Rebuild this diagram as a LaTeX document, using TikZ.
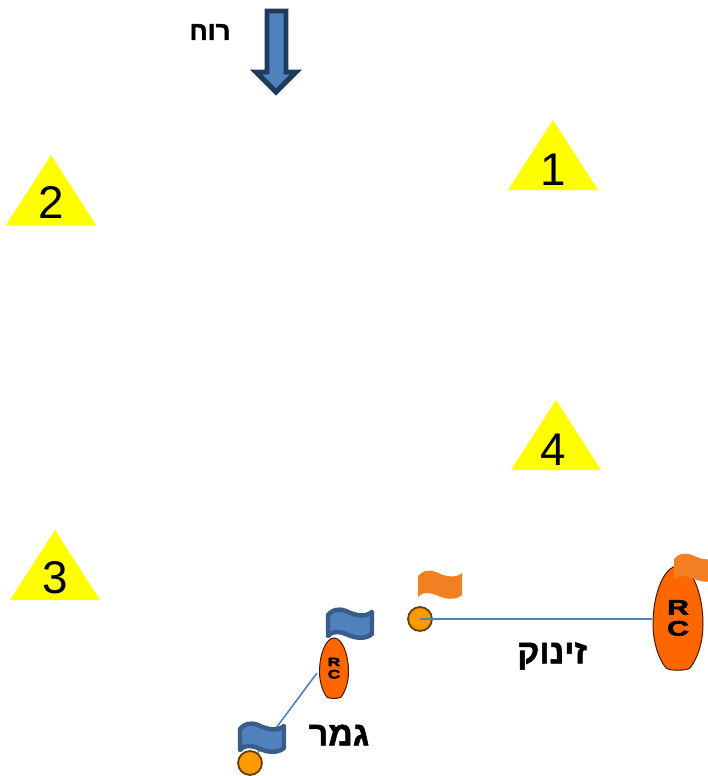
\documentclass[tikz,border=0pt]{standalone}
\usepackage{fontspec}
\TeXXeTstate=1
\setmainfont{Liberation Sans}
\newfontfamily\hebfont[Script=Hebrew,BoldFeatures={FakeBold=1.5}]{Liberation Sans}
\newfontfamily\rcfont[FakeStretch=1.45,BoldFeatures={FakeBold=3}]{Liberation Sans}
\definecolor{buoyyellow}{HTML}{FFFF00}
\definecolor{boatorange}{HTML}{FF6600}
\definecolor{flagorange}{HTML}{F27F22}
\definecolor{ballorange}{HTML}{FF9900}
\definecolor{flagblue}{HTML}{4F81BD}
\definecolor{flagline}{HTML}{385D8A}
\definecolor{arrowline}{HTML}{1F3A5C}
\tikzstyle{ball}=[draw=black!60!ballorange,line width=1.8pt,circle,fill=ballorange,minimum size=24pt,inner sep=0pt]
\tikzstyle{lineedge}=[draw=flagblue,line width=1.6pt]
\tikzstyle{hebtext}=[font=\hebfont\bfseries\fontsize{34}{36}\selectfont,inner sep=0pt]
\tikzstyle{digit}=[font=\fontsize{46}{48}\selectfont,inner sep=0pt]
\tikzset{
  buoy/.pic={
    \fill[buoyyellow] (0,0) -- (-45,70) -- (45,70) -- cycle;
  },
  flag/.pic={
    \path[pic actions,line join=round] (0,6) .. controls (4,1) and (10,-1) .. (18,2)
      .. controls (26,6) and (37,9) .. (44,3) -- (44,25)
      .. controls (37,31) and (26,29) .. (18,25)
      .. controls (10,22) and (4,22) .. (0,27) -- cycle;
  },
  boat/.pic={
    \path[fill=boatorange,draw=black!75!boatorange,line width=1pt] (0,0)
      .. controls (-14,0) and (-25,28) .. (-25,58)
      .. controls (-25,75) and (-20,92) .. (-12,102)
      .. controls (-8,105) and (8,105) .. (12,102)
      .. controls (20,92) and (25,75) .. (25,58)
      .. controls (25,28) and (14,0) .. (0,0) -- cycle;
    \node[font=\rcfont\bfseries\fontsize{21}{21}\selectfont,align=center,inner sep=0pt,transform shape] (-rc) at (0,52) {R\\C};
  },
}
\begin{document}
\begin{tikzpicture}[x=1bp,y=-1bp]
\clip (0,0) rectangle (708,776);

% wind
\node[font=\hebfont\bfseries\fontsize{26}{28}\selectfont,inner sep=0pt] (windtext) at (210,32) {\beginR רוח\endR};
\path[fill=flagblue,draw=arrowline,line width=5pt,line join=miter] (267,11) -- (286,11) -- (286,72) -- (296,72) -- (276,92) -- (256,72) -- (267,72) -- cycle;

% marks
\pic (buoy1) at (553,120) {buoy};
\node[digit] (num1) at (553,170) {1};
\pic (buoy2) at (51,155) {buoy};
\node[digit] (num2) at (51,202) {2};
\pic (buoy3) at (55,530) {buoy};
\node[digit] (num3) at (55,578) {3};
\pic (buoy4) at (556,400) {buoy};
\node[digit] (num4) at (553,450) {4};

% start line
\pic (startboat) at (678,566) {boat};
\coordinate (startend) at (652,619);
\node[ball] (startball) at (420,619) {};
\draw[lineedge] (startball.center) to (startend);
\pic[fill=flagorange] (startflag) at (418,570) {flag};
\pic[fill=flagorange] (boatflag) at (674,553) {flag};
\node[hebtext] (starttext) at (552,656) {\beginR זינוק\endR};

% finish line
\pic[scale=0.58] (finishboat) at (334,638) {boat};
\coordinate (finishend) at (317,673);
\node[ball] (finishball) at (250,763) {};
\draw[lineedge] (finishball) to (finishend);
\pic[fill=flagblue,draw=flagline,line width=4.5pt] (finishflag1) at (328,609) {flag};
\pic[fill=flagblue,draw=flagline,line width=4.5pt] (finishflag2) at (240,723) {flag};
\node[hebtext] (finishtext) at (339,735) {\beginR גמר\endR};
\end{tikzpicture}
\end{document}
